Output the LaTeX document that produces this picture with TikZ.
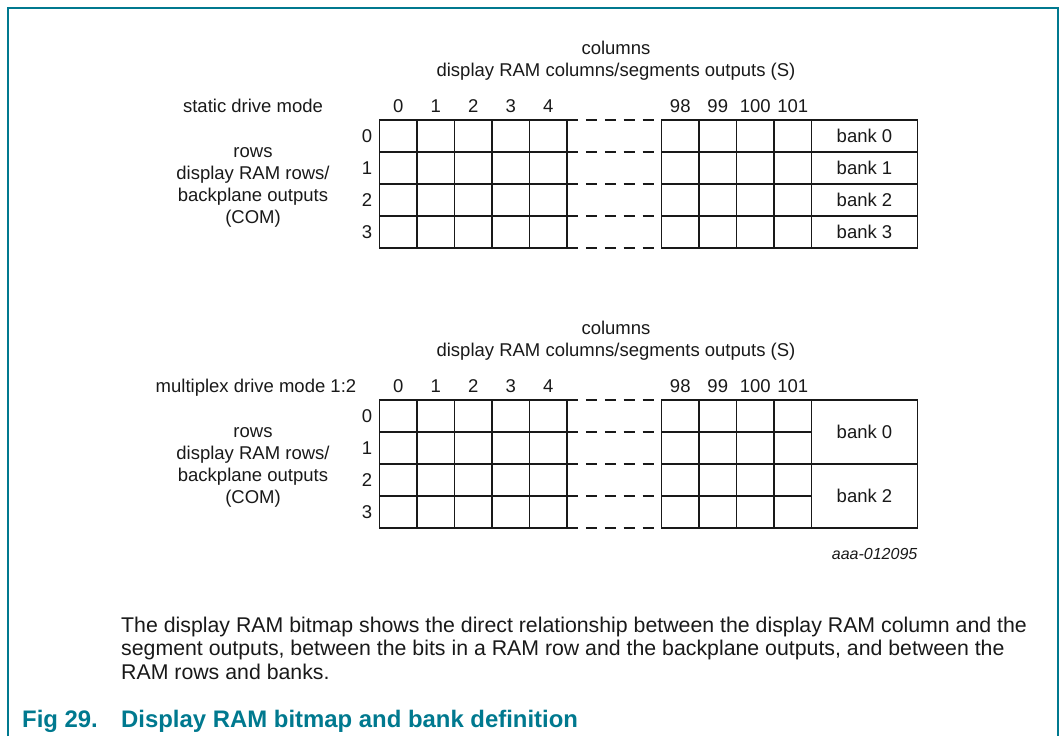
\documentclass[tikz,border=0pt]{standalone}
\usepackage{fontspec}
\setmainfont{Liberation Sans}
\usetikzlibrary{positioning}
\definecolor{nxpteal}{RGB}{0,121,143}
\definecolor{ink}{RGB}{25,25,25}
\tikzset{
    % frame round the figure
    frame/.style={
        draw=nxpteal,
        line width=1.5pt,
    },
    % RAM cells
    cell/.style={
        draw=ink,
        line width=1.3pt,
    },
    % skipped columns
    gap/.style={
        draw=ink,
        line width=1.3pt,
        dash pattern=on 11pt off 7.9pt,
    },
    % labels
    lbl/.style={
        text=ink,
        inner sep=0pt,
        font=\fontsize{18.5}{22}\selectfont,
    },
    body/.style={
        text=ink,
        inner sep=0pt,
        align=left,
        font=\fontsize{21.3}{23.7}\selectfont,
    },
    caption/.style={
        text=nxpteal,
        inner sep=0pt,
        font=\fontsize{23.9}{28}\selectfont\bfseries,
    },
}

\begin{document}
\begin{tikzpicture}[x=1pt,y=-1pt]
\useasboundingbox (0,0) rectangle (1064,736);
% Frame
\draw[frame] (8,736) -- (8,8) -- (1058,8) -- (1058,736);

% Static drive mode
\begin{scope}
    \node[lbl,anchor=base] (S-cols) at (616,54.5) {columns};
    \node[lbl,anchor=base] (S-seg) at (616,76.5) {display RAM columns/segments outputs (S)};
    \node[lbl,anchor=base] (S-mode) at (253,112.7) {static drive mode};
    \node[lbl,anchor=base] (S-c0) at (398.25,112.7) {0};
    \node[lbl,anchor=base] (S-c1) at (435.75,112.7) {1};
    \node[lbl,anchor=base] (S-c2) at (473.25,112.7) {2};
    \node[lbl,anchor=base] (S-c3) at (510.75,112.7) {3};
    \node[lbl,anchor=base] (S-c4) at (548.25,112.7) {4};
    \node[lbl,anchor=base] (S-c98) at (680.25,112.7) {98};
    \node[lbl,anchor=base] (S-c99) at (717.75,112.7) {99};
    \node[lbl,anchor=base] (S-c100) at (755.25,112.7) {100};
    \node[lbl,anchor=base] (S-c101) at (792.75,112.7) {101};
    \node[lbl] (S-r0) at (367,136) {0};
    \node[lbl] (S-r1) at (367,168) {1};
    \node[lbl] (S-r2) at (367,200) {2};
    \node[lbl] (S-r3) at (367,232) {3};
    \node[lbl,align=center] (S-rows) at (253,187) {rows\\display RAM rows/\\backplane outputs\\(COM)};
    \node[lbl] (S-b0) at (864.5,136) {bank 0};
    \node[lbl] (S-b1) at (864.5,168) {bank 1};
    \node[lbl] (S-b2) at (864.5,200) {bank 2};
    \node[lbl] (S-b3) at (864.5,232) {bank 3};
    % columns 0 to 4
    \draw[cell] (379.5,120) rectangle (567,248);
    \draw[cell] (417,120) -- (417,248) (454.5,120) -- (454.5,248)
        (492,120) -- (492,248) (529.5,120) -- (529.5,248);
    \draw[cell] (379.5,152) -- (567,152) (379.5,184) -- (567,184)
        (379.5,216) -- (567,216);
    % columns 98 to 101 and banks
    \draw[cell] (661.5,120) rectangle (917.5,248);
    \draw[cell] (699,120) -- (699,248) (736.5,120) -- (736.5,248)
        (774,120) -- (774,248) (811.5,120) -- (811.5,248);
    \draw[cell] (661.5,152) -- (917.5,152) (661.5,184) -- (917.5,184)
        (661.5,216) -- (917.5,216);
    % skipped columns
    \draw[gap] (567,120) -- (661.5,120);
    \draw[gap] (567,152) -- (661.5,152);
    \draw[gap] (567,184) -- (661.5,184);
    \draw[gap] (567,216) -- (661.5,216);
    \draw[gap] (567,248) -- (661.5,248);
\end{scope}

% Multiplex drive mode 1:2
\begin{scope}[shift={(0,280)}]
    \node[lbl,anchor=base] (M-cols) at (616,54.5) {columns};
    \node[lbl,anchor=base] (M-seg) at (616,76.5) {display RAM columns/segments outputs (S)};
    \node[lbl,anchor=base] (M-mode) at (256,112.7) {multiplex drive mode 1:2};
    \node[lbl,anchor=base] (M-c0) at (398.25,112.7) {0};
    \node[lbl,anchor=base] (M-c1) at (435.75,112.7) {1};
    \node[lbl,anchor=base] (M-c2) at (473.25,112.7) {2};
    \node[lbl,anchor=base] (M-c3) at (510.75,112.7) {3};
    \node[lbl,anchor=base] (M-c4) at (548.25,112.7) {4};
    \node[lbl,anchor=base] (M-c98) at (680.25,112.7) {98};
    \node[lbl,anchor=base] (M-c99) at (717.75,112.7) {99};
    \node[lbl,anchor=base] (M-c100) at (755.25,112.7) {100};
    \node[lbl,anchor=base] (M-c101) at (792.75,112.7) {101};
    \node[lbl] (M-r0) at (367,136) {0};
    \node[lbl] (M-r1) at (367,168) {1};
    \node[lbl] (M-r2) at (367,200) {2};
    \node[lbl] (M-r3) at (367,232) {3};
    \node[lbl,align=center] (M-rows) at (253,187) {rows\\display RAM rows/\\backplane outputs\\(COM)};
    \node[lbl] (M-b0) at (864.5,152) {bank 0};
    \node[lbl] (M-b2) at (864.5,216) {bank 2};
    % columns 0 to 4
    \draw[cell] (379.5,120) rectangle (567,248);
    \draw[cell] (417,120) -- (417,248) (454.5,120) -- (454.5,248)
        (492,120) -- (492,248) (529.5,120) -- (529.5,248);
    \draw[cell] (379.5,152) -- (567,152) (379.5,184) -- (567,184)
        (379.5,216) -- (567,216);
    % columns 98 to 101 and banks
    \draw[cell] (661.5,120) rectangle (917.5,248);
    \draw[cell] (699,120) -- (699,248) (736.5,120) -- (736.5,248)
        (774,120) -- (774,248) (811.5,120) -- (811.5,248);
    \draw[cell] (661.5,152) -- (811.5,152) (661.5,184) -- (917.5,184)
        (661.5,216) -- (811.5,216);
    % skipped columns
    \draw[gap] (567,120) -- (661.5,120);
    \draw[gap] (567,152) -- (661.5,152);
    \draw[gap] (567,184) -- (661.5,184);
    \draw[gap] (567,216) -- (661.5,216);
    \draw[gap] (567,248) -- (661.5,248);
    \node[lbl,anchor=base east,font=\fontsize{16}{19}\selectfont\itshape] (M-id) at (917.5,279) {aaa-012095};
\end{scope}

% Description and caption
\node[body,anchor=base west] (desc) at (121,679.5) {The display RAM bitmap shows the direct relationship between the display RAM column and the\\segment outputs, between the bits in a RAM row and the backplane outputs, and between the\\RAM rows and banks.};
\node[caption,anchor=base west] (fig) at (22,727) {\makebox[99pt][l]{Fig 29.}Display RAM bitmap and bank definition};
\end{tikzpicture}
\end{document}
